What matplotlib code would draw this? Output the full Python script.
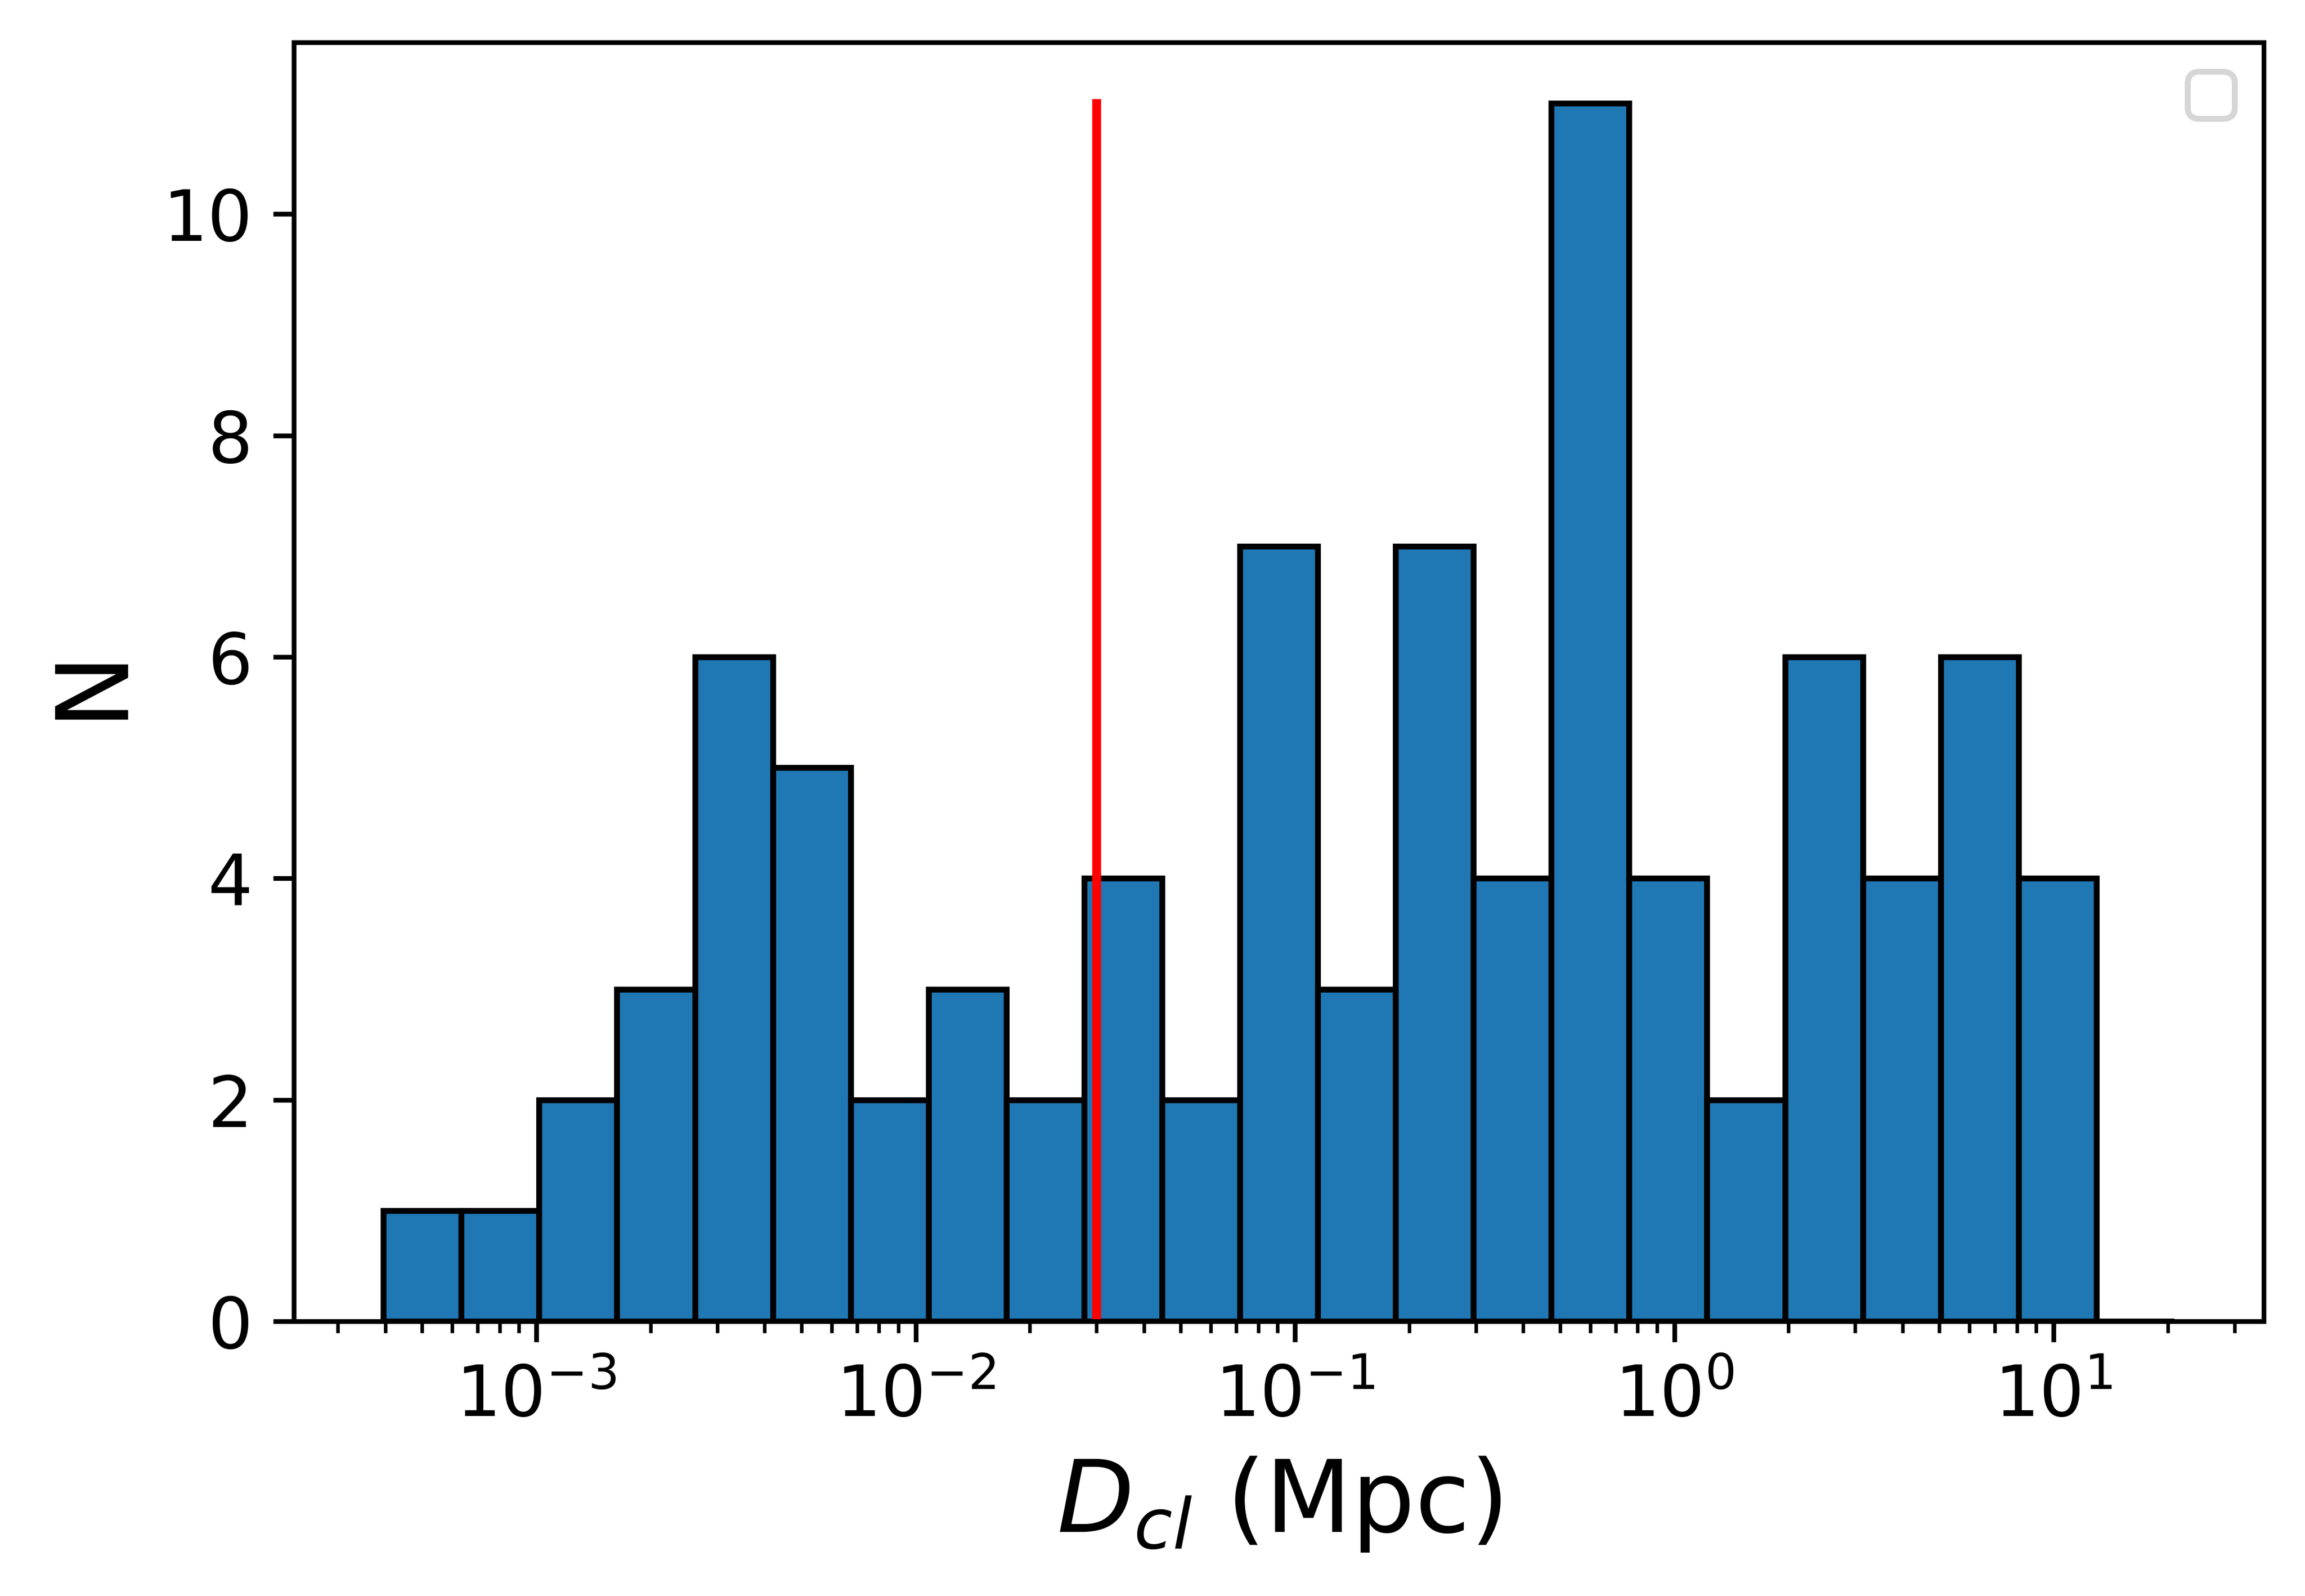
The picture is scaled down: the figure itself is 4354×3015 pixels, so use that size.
import numpy as np
import matplotlib
matplotlib.use('Agg')
import matplotlib.pyplot as plt

# histogram of cluster distances, log-spaced bins
log_lo = -3.403
log_hi = 1.318
counts = [1, 1, 2, 3, 6, 5, 2, 3, 2, 4, 2, 7, 3, 7, 4, 11, 4, 2, 6, 4, 6, 4, 0]
d_cut = 0.03
cut_top = 11


def main():
    edges = np.logspace(log_lo, log_hi, len(counts) + 1)
    centers = np.sqrt(edges[:-1] * edges[1:])

    fig = plt.figure(figsize=(4354 / 800, 3015 / 800), dpi=800)
    ax = fig.add_axes([0.1275, 0.1721, 0.8546, 0.8014])
    ax.hist(centers, bins=edges, weights=counts, edgecolor='k', linewidth=1.0)
    ax.plot([d_cut, d_cut], [0, cut_top], 'r-')
    ax.set_xscale('log')
    ax.tick_params(labelsize=12)
    ax.set_xlabel(r'$D_{cl}$ (Mpc)', fontsize=17)
    ax.set_ylabel('N', fontsize=17)
    ax.legend()
    fig.savefig('out.png', dpi=800)


if __name__ == '__main__':
    main()
